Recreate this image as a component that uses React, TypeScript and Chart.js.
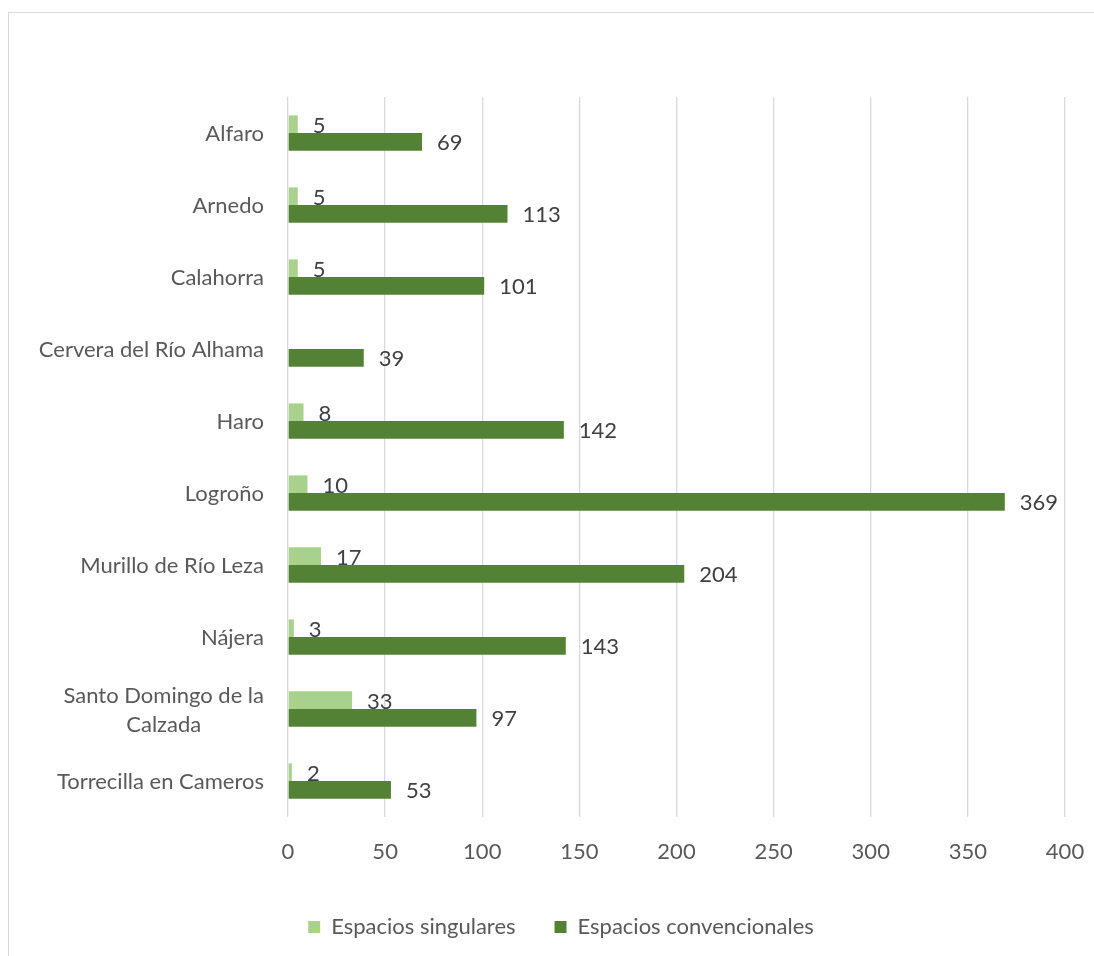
import React, { useEffect, useRef } from "react";
import { Chart, registerables } from "chart.js";

Chart.register(...registerables);

const categories: (string | string[])[] = [
  "Alfaro",
  "Arnedo",
  "Calahorra",
  "Cervera del Río Alhama",
  "Haro",
  "Logroño",
  "Murillo de Río Leza",
  "Nájera",
  ["Santo Domingo de la", "Calzada"],
  "Torrecilla en Cameros",
];
const singulares = [5, 5, 5, 0, 8, 10, 17, 3, 33, 2];
const convencionales = [69, 113, 101, 39, 142, 369, 204, 143, 97, 53];
const seriesNames = ["Espacios singulares", "Espacios convencionales"];
const xMin = 0;
const xMax = 400;
const xStep = 50;

const FONT = "Lato";
const FS = 22;
const TEXT = "#595959";

const yLabelPlugin = {
  id: "yLabels",
  afterDraw(chart: any) {
    const ctx = chart.ctx;
    const ys = chart.scales.y;
    const right = chart.chartArea.left - 24;
    ctx.save();
    ctx.font = `${FS}px ${FONT}`;
    ctx.fillStyle = TEXT;
    ctx.textBaseline = "middle";
    ctx.textAlign = "center";
    const lh = 29;
    (chart.data.labels as any[]).forEach((lab, i) => {
      const lines: string[] = Array.isArray(lab) ? lab : [lab];
      const w = Math.max(...lines.map((l) => ctx.measureText(l).width));
      const cx = right - w / 2;
      const cy = ys.getPixelForTick(i) + 1;
      const start = cy - ((lines.length - 1) * lh) / 2;
      lines.forEach((l, k) => ctx.fillText(l, cx, start + k * lh));
    });
    ctx.restore();
  },
};

const valueLabelPlugin = {
  id: "valueLabels",
  afterDatasetsDraw(chart: any) {
    const ctx = chart.ctx;
    ctx.save();
    ctx.font = `${FS}px ${FONT}`;
    ctx.fillStyle = "#404040";
    ctx.textBaseline = "middle";
    ctx.textAlign = "left";
    chart.data.datasets.forEach((ds: any, di: number) => {
      const meta = chart.getDatasetMeta(di);
      meta.data.forEach((el: any, i: number) => {
        const v = ds.data[i];
        if (!v) return;
        ctx.fillText(String(v), el.x + 15, el.y + (di === 0 ? 2 : 1));
      });
    });
    ctx.restore();
  },
};

const legendShiftPlugin = {
  id: "legendShift",
  afterLayout(chart: any) {
    const lg = chart.legend;
    if (!lg) return;
    lg.left += 24;
    lg.right += 24;
    lg.top += 2;
    lg.bottom += 2;
  },
};

export default function App() {
  const ref = useRef<HTMLCanvasElement>(null);
  useEffect(() => {
    if (!ref.current) return;
    const chart = new Chart(ref.current, {
      type: "bar",
      data: {
        labels: categories as any,
        datasets: [
          {
            label: seriesNames[0],
            data: singulares,
            backgroundColor: "#A9D18E",
            categoryPercentage: 0.49,
            barPercentage: 1,
          },
          {
            label: seriesNames[1],
            data: convencionales,
            backgroundColor: "#548235",
            categoryPercentage: 0.49,
            barPercentage: 1,
          },
        ],
      },
      options: {
        indexAxis: "y",
        responsive: false,
        maintainAspectRatio: false,
        animation: false,
        layout: { padding: { top: 84, right: 29, left: 0, bottom: 10 } },
        scales: {
          x: {
            min: xMin,
            max: xMax,
            ticks: {
              stepSize: xStep,
              color: TEXT,
              font: { family: FONT, size: FS },
              padding: 22,
            },
            grid: { color: "#d9d9d9", lineWidth: 1.3, drawTicks: false },
            border: { display: false },
            afterFit: (s: any) => {
              s.height = 58;
              s.paddingLeft = 0;
              s.paddingRight = 0;
            },
          },
          y: {
            ticks: { display: false },
            grid: { display: false },
            border: { display: false },
            afterFit: (s: any) => {
              s.width = 279;
              s.paddingTop = 0;
              s.paddingBottom = 0;
            },
          },
        },
        plugins: {
          legend: {
            position: "bottom",
            labels: {
              boxWidth: 12,
              boxHeight: 12,
              padding: 39,
              color: TEXT,
              font: { family: FONT, size: FS },
            },
          },
          tooltip: { enabled: false },
        },
      },
      plugins: [yLabelPlugin, valueLabelPlugin, legendShiftPlugin],
    });
    return () => chart.destroy();
  }, []);
  return (
    <div
      style={{
        position: "absolute",
        left: 8,
        top: 12,
        width: 1086,
        height: 944,
        boxSizing: "border-box",
        borderTop: "1px solid #d9d9d9",
        borderLeft: "1px solid #d9d9d9",
        background: "#fff",
      }}
    >
      <canvas ref={ref} width={1085} height={943} style={{ display: "block" }} />
    </div>
  );
}
